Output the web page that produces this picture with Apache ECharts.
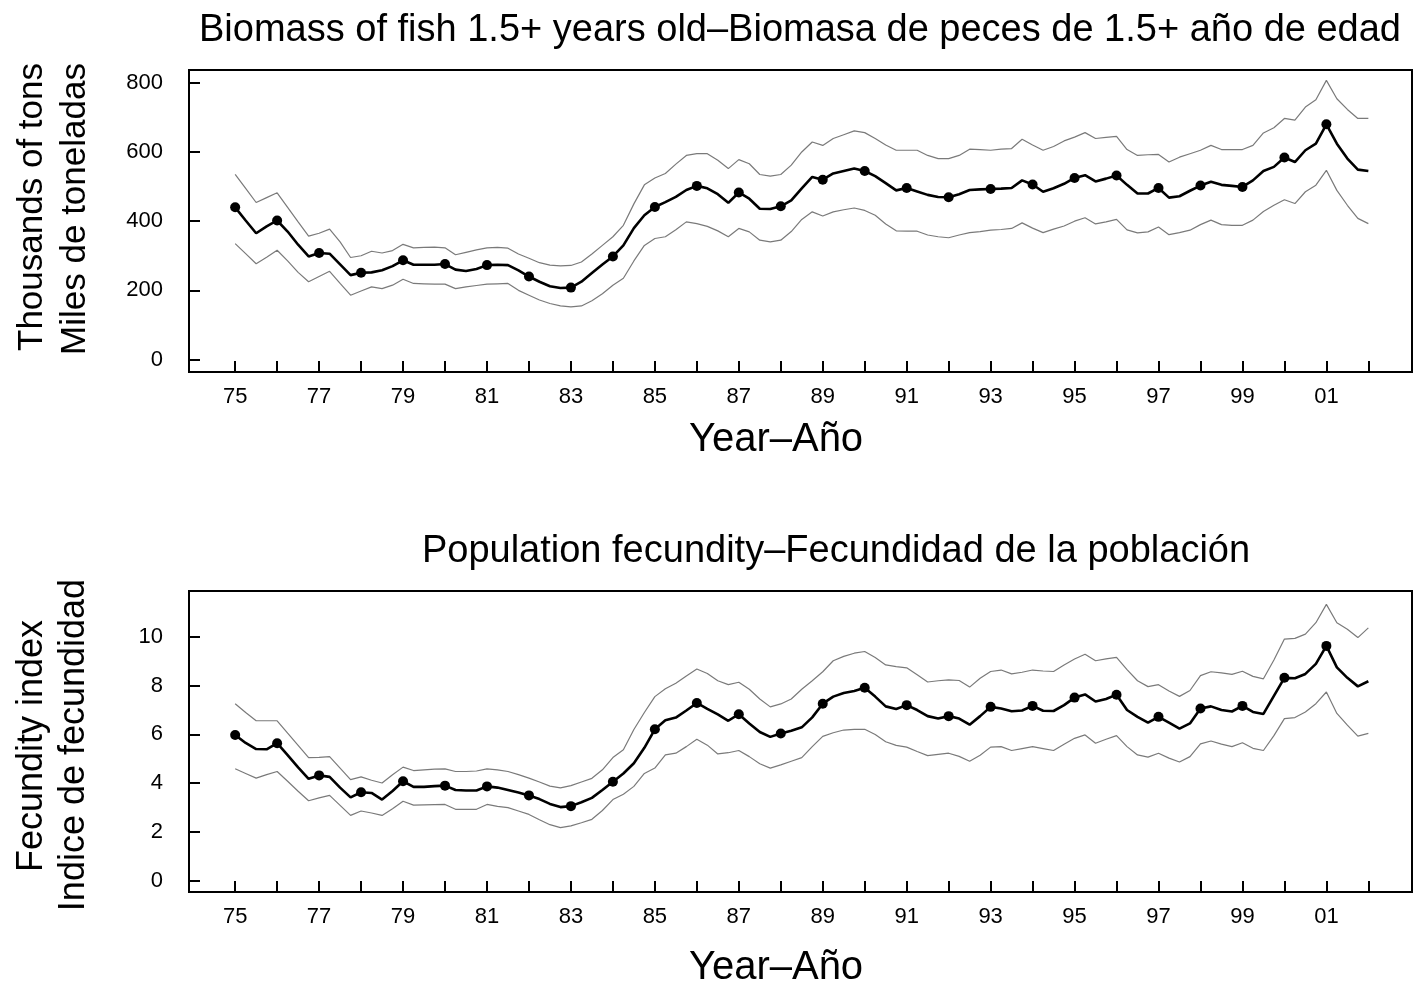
<!DOCTYPE html>
<html>
<head>
<meta charset="utf-8">
<script src="https://cdn.jsdelivr.net/npm/echarts@6/dist/echarts.min.js"></script>
<style>
  html, body { margin: 0; padding: 0; background: #fff; }
  #chart { width: 1414px; height: 988px; }
</style>
</head>
<body>
<div id="chart"></div>
<script>
// quarterly estimates, 1975.00 .. 2002.00 (109 values)
var startYear = 1975;

var biomass = [
    440, 402, 365, 385,  402, 370, 332, 298,  308, 306, 275, 244,  251, 252, 258, 270,
    287, 274, 274, 274,  276, 260, 256, 262,  273, 274, 273, 258,  240, 225, 212, 207,
    208, 225, 250, 275,  298, 330, 380, 417,  441, 455, 470, 490,  502, 495, 478, 453,
    483, 465, 436, 435,  443, 460, 495, 528,  520, 538, 545, 552,  545, 530, 510, 489,
    496, 486, 476, 470,  469, 478, 490, 492,  493, 494, 496, 518,  506, 485, 495, 508,
    525, 533, 515, 523,  532, 505, 480, 480,  496, 468, 472, 488,  503, 514, 505, 502,
    499, 518, 545, 557,  584, 571, 605, 624,  680, 624, 581, 549,  545
];
var biomassUpper = [
    535, 495, 454, 468,  482, 440, 398, 357,  365, 377, 340, 295,  300, 313, 308, 315,
    333, 323, 324, 325,  323, 303, 310, 317,  323, 324, 322, 305,  293, 280, 273, 271,
    272, 282, 305, 330,  355, 388, 450, 505,  525, 538, 565, 590,  595, 595, 576, 552,
    578, 566, 535, 530,  535, 562, 600, 629,  619, 639, 650, 661,  656, 639, 620, 605,
    605, 605, 590, 581,  581, 590, 608, 607,  605, 608, 610, 637,  620, 605, 616, 632,
    643, 656, 639, 642,  645, 607, 590, 592,  593, 571, 585, 595,  605, 619, 607, 607,
    607, 619, 655, 670,  697, 692, 730, 751,  807, 754, 723, 697,  697
];
var biomassLower = [
    335, 306, 277, 296,  316, 285, 252, 225,  240, 255, 220, 186,  198, 210, 205, 215,
    232, 220, 219, 218,  218, 205, 210, 214,  218, 219, 220, 200,  186, 172, 162, 155,
    152, 155, 170, 190,  215, 235, 285, 330,  350, 355, 375, 398,  393, 385, 372, 355,
    379, 369, 345, 340,  345, 370, 405, 427,  415, 427, 433, 438,  431, 417, 392, 372,
    371, 371, 360, 355,  352, 360, 367, 370,  374, 376, 379, 395,  380, 367, 377, 386,
    400, 410, 392, 398,  405, 375, 366, 369,  383, 361, 367, 374,  390, 403, 390, 388,
    388, 403, 428, 446,  462, 451, 485, 504,  547, 489, 446, 408,  393
];

var fecundity = [
    5.98, 5.65, 5.40, 5.39,  5.64, 5.15, 4.65, 4.18,  4.32, 4.26, 3.82, 3.42,  3.63, 3.60, 3.33, 3.68,
    4.08, 3.85, 3.85, 3.88,  3.90, 3.72, 3.70, 3.70,  3.87, 3.82, 3.72, 3.62,  3.50, 3.35, 3.15, 3.02,
    3.06, 3.22, 3.40, 3.72,  4.06, 4.40, 4.82, 5.45,  6.21, 6.58, 6.69, 6.98,  7.29, 7.05, 6.82, 6.56,
    6.83, 6.45, 6.10, 5.90,  6.04, 6.15, 6.29, 6.70,  7.26, 7.55, 7.70, 7.78,  7.91, 7.55, 7.15, 7.04,
    7.20, 7.00, 6.75, 6.65,  6.75, 6.65, 6.40, 6.75,  7.13, 7.06, 6.95, 6.98,  7.17, 6.97, 6.96, 7.20,
    7.51, 7.64, 7.35, 7.45,  7.63, 7.00, 6.72, 6.48,  6.72, 6.48, 6.24, 6.45,  7.06, 7.15, 7.00, 6.94,
    7.17, 6.92, 6.84, 7.58,  8.32, 8.30, 8.48, 8.89,  9.63, 8.75, 8.32, 7.97,  8.18
];
var fecundityUpper = [
    7.26, 6.90, 6.56, 6.56,  6.56, 6.05, 5.55, 5.05,  5.06, 5.09, 4.62, 4.15,  4.26, 4.12, 4.01, 4.35,
    4.66, 4.52, 4.55, 4.58,  4.59, 4.48, 4.48, 4.50,  4.59, 4.55, 4.48, 4.35,  4.21, 4.05, 3.88, 3.81,
    3.90, 4.05, 4.20, 4.55,  5.05, 5.37, 6.20, 6.90,  7.55, 7.87, 8.10, 8.40,  8.68, 8.50, 8.20, 8.04,
    8.14, 7.85, 7.45, 7.13,  7.25, 7.45, 7.85, 8.20,  8.57, 9.02, 9.20, 9.33,  9.40, 9.15, 8.85, 8.78,
    8.73, 8.45, 8.15, 8.20,  8.24, 8.21, 7.94, 8.30,  8.58, 8.64, 8.48, 8.55,  8.64, 8.60, 8.58, 8.85,
    9.09, 9.29, 9.02, 9.10,  9.16, 8.66, 8.20, 7.96,  8.04, 7.78, 7.56, 7.80,  8.41, 8.57, 8.52, 8.46,
    8.59, 8.38, 8.28, 9.05,  9.91, 9.94, 10.11, 10.58,  11.33, 10.58, 10.31, 9.97,  10.37
];
var fecundityLower = [
    4.59, 4.40, 4.21, 4.35,  4.48, 4.08, 3.67, 3.28,  3.40, 3.50, 3.09, 2.68,  2.86, 2.78, 2.68, 2.95,
    3.26, 3.10, 3.11, 3.12,  3.13, 2.93, 2.93, 2.93,  3.13, 3.05, 3.00, 2.86,  2.72, 2.50, 2.30, 2.18,
    2.25, 2.38, 2.52, 2.88,  3.33, 3.55, 3.87, 4.40,  4.62, 5.16, 5.23, 5.50,  5.80, 5.56, 5.20, 5.25,
    5.34, 5.09, 4.80, 4.62,  4.75, 4.90, 5.05, 5.50,  5.92, 6.07, 6.18, 6.21,  6.21, 6.00, 5.70, 5.55,
    5.48, 5.30, 5.13, 5.18,  5.23, 5.10, 4.90, 5.15,  5.48, 5.50, 5.34, 5.42,  5.50, 5.42, 5.34, 5.60,
    5.84, 5.98, 5.64, 5.80,  5.95, 5.50, 5.16, 5.07,  5.23, 5.03, 4.87, 5.09,  5.61, 5.73, 5.60, 5.50,
    5.66, 5.43, 5.34, 5.95,  6.65, 6.69, 6.92, 7.26,  7.74, 6.86, 6.38, 5.93,  6.04
];

var tickYears = [1975, 1976, 1977, 1978, 1979, 1980, 1981, 1982, 1983, 1984, 1985, 1986, 1987, 1988,
                 1989, 1990, 1991, 1992, 1993, 1994, 1995, 1996, 1997, 1998, 1999, 2000, 2001, 2002];
var labelYears = [1975, 1977, 1979, 1981, 1983, 1985, 1987, 1989, 1991, 1993, 1995, 1997, 1999, 2001];
var biomassTicks = [0, 200, 400, 600, 800];
var fecundityTicks = [0, 2, 4, 6, 8, 10];

var FONT = "'Liberation Sans', Arial, Helvetica, sans-serif";

function pairs(values) {
    return values.map(function (v, i) { return [startYear + i / 4, v]; });
}
// one dot at the start of each year (not at the final quarter)
function annual(values) {
    var out = [];
    values.forEach(function (v, i) {
        if (i % 4 == 0 && i < values.length - 1) out.push([startYear + i / 4, v]);
    });
    return out;
}

function xAxis(gridIndex) {
    return {
        type: 'value', gridIndex: gridIndex,
        min: 1973.9, max: 2003.04,
        axisLine: { show: true, onZero: false, lineStyle: { color: '#000', width: 2 } },
        axisTick: { show: true, inside: true, length: 11, customValues: tickYears,
                    lineStyle: { color: '#000', width: 2 } },
        axisLabel: { customValues: labelYears, margin: 14, color: '#000', fontSize: 22, fontFamily: FONT,
                     formatter: function (v) { return String(v).slice(2); } },
        splitLine: { show: false }
    };
}
function yAxis(gridIndex, min, max, ticks) {
    return {
        type: 'value', gridIndex: gridIndex, min: min, max: max,
        axisLine: { show: true, onZero: false, lineStyle: { color: '#000', width: 2 } },
        axisTick: { show: true, inside: true, length: 11, customValues: ticks,
                    lineStyle: { color: '#000', width: 2 } },
        axisLabel: { customValues: ticks, margin: 26, color: '#000', fontSize: 22, fontFamily: FONT },
        splitLine: { show: false }
    };
}
function band(name, values, idx) {
    return {
        name: name, type: 'line', xAxisIndex: idx, yAxisIndex: idx,
        data: pairs(values), symbol: 'none', silent: true,
        lineStyle: { color: '#7a7a7a', width: 1.2 }
    };
}
function mainLine(name, values, idx) {
    return {
        name: name, type: 'line', xAxisIndex: idx, yAxisIndex: idx,
        data: pairs(values), symbol: 'none',
        lineStyle: { color: '#000', width: 2.6 }
    };
}
function dots(name, values, idx) {
    return {
        name: name, type: 'scatter', xAxisIndex: idx, yAxisIndex: idx,
        data: annual(values), symbol: 'circle', symbolSize: 10,
        itemStyle: { color: '#000', opacity: 1 }, z: 5
    };
}
function label(text, x, y, size, rotate) {
    return {
        type: 'text', x: x, y: y, rotation: rotate ? Math.PI / 2 : 0,
        style: { text: text, fill: '#000', font: size + 'px ' + FONT,
                 textAlign: 'center', textVerticalAlign: 'middle' }
    };
}

var chart = echarts.init(document.getElementById('chart'), null, { renderer: 'canvas' });
chart.setOption({
    backgroundColor: '#fff',
    animation: false,
    grid: [
        { left: 189, top: 70, width: 1223, height: 302, show: true, borderColor: '#000', borderWidth: 2 },
        { left: 189, top: 591, width: 1223, height: 301, show: true, borderColor: '#000', borderWidth: 2 }
    ],
    xAxis: [xAxis(0), xAxis(1)],
    yAxis: [yAxis(0, -36, 837, biomassTicks), yAxis(1, -0.46, 11.88, fecundityTicks)],
    series: [
        band('Biomass upper', biomassUpper, 0),
        band('Biomass lower', biomassLower, 0),
        mainLine('Biomass', biomass, 0),
        dots('Biomass annual', biomass, 0),
        band('Fecundity upper', fecundityUpper, 1),
        band('Fecundity lower', fecundityLower, 1),
        mainLine('Fecundity', fecundity, 1),
        dots('Fecundity annual', fecundity, 1)
    ],
    graphic: [
        label('Biomass of fish 1.5+ years old\u2013Biomasa de peces de 1.5+ año de edad', 800, 31, 38),
        label('Year\u2013Año', 776, 440, 40),
        label('Thousands of tons', 32, 207, 35, true),
        label('Miles de toneladas', 75, 209, 35, true),
        label('Population fecundity\u2013Fecundidad de la población', 836, 552, 38),
        label('Year\u2013Año', 776, 968, 40),
        label('Fecundity index', 32, 746, 36, true),
        label('Indice de fecundidad', 74, 745, 36, true)
    ]
});
</script>
</body>
</html>
